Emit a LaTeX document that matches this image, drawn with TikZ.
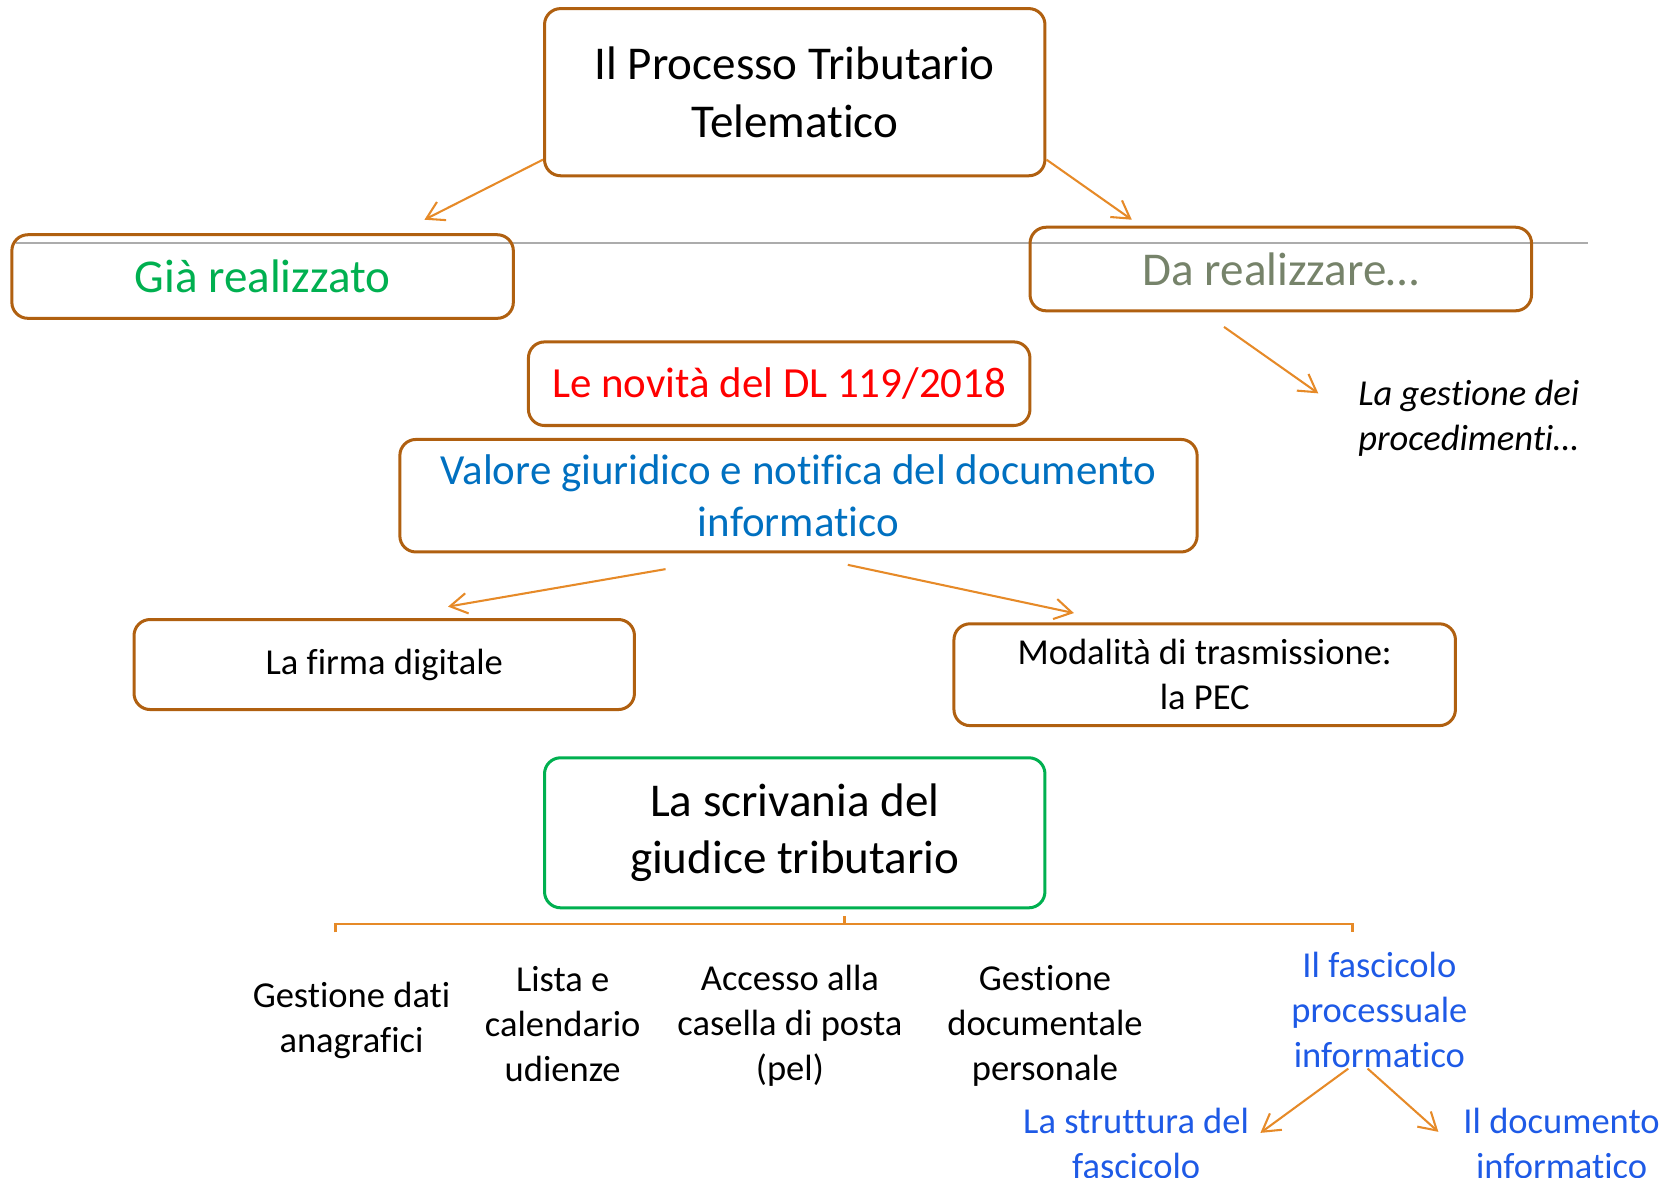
\documentclass[tikz,border=0pt]{standalone}
\usepackage{fontspec}
\setmainfont{Carlito}[Ligatures=NoCommon]
\usetikzlibrary{
    positioning,
    arrows.meta
    }
\definecolor{boxbrown}{RGB}{176,96,16}
\definecolor{linkorange}{RGB}{230,138,40}
\definecolor{donegreen}{RGB}{0,176,80}
\definecolor{todogrey}{RGB}{118,131,106}
\definecolor{valueblue}{RGB}{0,112,192}
\definecolor{folderblue}{RGB}{30,90,230}

\begin{document}
\begin{tikzpicture}[x=0.02cm, y=-0.02cm]
\tikzset{box/.style =
        {
            rectangle,
            rounded corners=0.3cm,
            draw=boxbrown,
            line width=1.6pt,
            align=center,
            inner sep=0pt
        }
}

\tikzset{big/.style = { font=\fontsize{25}{30.7}\selectfont } }
\tikzset{mid/.style = { font=\fontsize{22.8}{27.9}\selectfont } }
\tikzset{small/.style = { font=\fontsize{19.4}{23.9}\selectfont, align=center, inner sep=0pt } }

\tikzset{link/.style = {
            line width=1.1pt,
            linkorange,
            -{Straight Barb[length=3.2mm, width=3.8mm]}
        }
}

		\useasboundingbox (0,0) rectangle (1560,1099);

		\draw[gray!65, line width=1pt] (15,227) -- (1482,227);

		\node[box, big, minimum width=9.34cm, minimum height=3.12cm] (title) at (741.5,86) {Il Processo Tributario\\Telematico};
		\node[box, big, text=donegreen, minimum width=9.36cm, minimum height=1.56cm] (done) at (245,258) {Già realizzato};
		\node[box, big, text=todogrey, minimum width=9.36cm, minimum height=1.56cm] (todo) at (1195,251) {Da realizzare…};
		\node[box, mid, text=red, minimum width=9.36cm, minimum height=1.56cm] (news) at (727,358) {Le novità del DL 119/2018};
		\node[box, mid, text=valueblue, minimum width=14.88cm, minimum height=2.1cm] (value) at (745,462.5) {Valore giuridico e notifica del documento\\informatico};
		\node[box, small, minimum width=9.34cm, minimum height=1.68cm] (sign) at (358.5,620) {La firma digitale};
		\node[box, small, minimum width=9.36cm, minimum height=1.9cm] (pec) at (1124,629.5) {Modalità di trasmissione:\\la PEC};
		\node[box, big, draw=donegreen, minimum width=9.34cm, minimum height=2.8cm] (desk) at (741.5,777) {La scrivania del\\giudice tributario};

		\node[small, font=\fontsize{19.4}{23.9}\selectfont\itshape, align=left, anchor=west] (manage) at (1267,390) {La gestione dei\\procedimenti…};

		\foreach \name / \x / \y / \txt in
			{registry/328/952/{Gestione dati\\anagrafici},
				hearings/525/955/{Lista e\\calendario\\udienze},
				mailbox/737/957/{Accesso alla\\casella di posta\\(pel)},
				docs/975/957/{Gestione\\documentale\\personale}}
		\node[small] (\name) at (\x,\y) {\txt};

		\node[small, text=folderblue] (folder) at (1287,942) {Il fascicolo\\processuale\\informatico};
		\node[small, text=folderblue] (structure) at (1060,1067) {La struttura del\\fascicolo};
		\node[small, text=folderblue] (document) at (1457,1067) {Il documento\\informatico};

		% free ends of the connectors
		\coordinate (done-in) at (396,205);
		\coordinate (todo-in) at (1056,205);
		\coordinate (todo-out) at (1142,305);
		\coordinate (manage-in) at (1230,367);
		\coordinate (value-left) at (621,531);
		\coordinate (value-right) at (791,527);
		\coordinate (sign-in) at (418,566);
		\coordinate (pec-in) at (1002,572);
		\coordinate (folder-left) at (1258,997);
		\coordinate (folder-right) at (1276,997);
		\coordinate (structure-in) at (1176,1057);
		\coordinate (document-in) at (1342,1056);

		\draw[link] (title.195) -- (done-in);
		\draw[link] (title.-15) -- (todo-in);
		\draw[link] (todo-out) -- (manage-in);
		\draw[link] (value-left) -- (sign-in);
		\draw[link] (value-right) -- (pec-in);
		\draw[link] (folder-left) -- (structure-in);
		\draw[link] (folder-right) -- (document-in);

		\draw[linkorange, line width=1.3pt] (313,870) -- (313,862) -- (1262,862) -- (1262,870);
		\draw[linkorange, line width=1.3pt] (788,862) -- (788,855);

	\end{tikzpicture}
\end{document}
